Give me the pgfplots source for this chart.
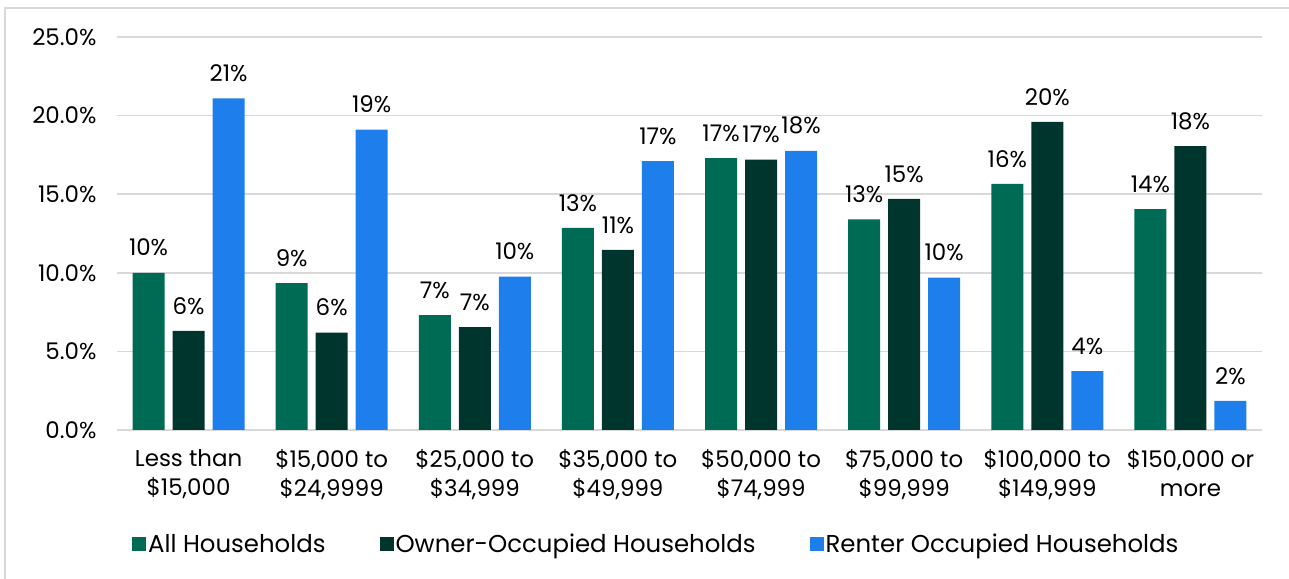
\documentclass[border=0pt]{standalone}
\usepackage{pgfplots}
\pgfplotsset{compat=1.18}
\usepackage{fontspec}
\setmainfont{Poppins}
\definecolor{cAll}{RGB}{0,107,84}
\definecolor{cOwn}{RGB}{0,53,46}
\definecolor{cRent}{RGB}{30,127,236}
\definecolor{gridc}{RGB}{217,217,217}
\begin{document}
\begin{tikzpicture}[x=1bp,y=1bp]
\useasboundingbox (0,0) rectangle (1289,579);
\draw[gridc, line width=1.5bp] (5,-5) -- (5,571) -- (1295,571);
\begin{axis}[
  at={(117bp,149bp)}, anchor=south west,
  scale only axis, width=1145bp, height=393bp,
  ymin=0, ymax=25, xmin=-0.5, xmax=7.5,
  ybar=8bp, bar width=32bp,
  axis line style={draw=none},
  ymajorgrids, grid style={gridc, line width=1.5bp},
  major tick length=0pt,
  ytick={0,5,10,15,20,25},
  yticklabel={\pgfmathprintnumber[fixed,fixed zerofill,precision=1]{\tick}\%},
  /pgf/number format/assume math mode=true,
  y tick label style={font=\fontsize{23}{27}\selectfont, xshift=-17bp},
  xtick={0,...,7},
  xticklabels={{Less than\\\$15,000},{\$15,000 to\\\$24,9999},{\$25,000 to\\\$34,999},{\$35,000 to\\\$49,999},{\$50,000 to\\\$74,999},{\$75,000 to\\\$99,999},{\$100,000 to\\\$149,999},{\$150,000 or\\more}},
  x tick label style={font=\fontsize{23}{29}\selectfont, align=center, yshift=-16bp},
  nodes near coords={\pgfmathprintnumber[fixed,precision=0]{\pgfplotspointmeta}\%},
  every node near coord/.append style={font=\fontsize{23}{27}\selectfont, black, yshift=13bp},
  legend columns=3,
  legend style={at={(0.471,-0.29)}, anchor=center, draw=none, font=\fontsize{24.5}{28}\selectfont,
    /tikz/every even column/.append style={column sep=52bp}},
  legend image code/.code={\path[#1,draw=none] (0bp,-7bp) rectangle (14bp,7bp);},
]
\addplot[fill=cAll, draw=none] coordinates {(0,10.0) (1,9.35) (2,7.3) (3,12.85) (4,17.3) (5,13.4) (6,15.65) (7,14.05)};
\addplot[fill=cOwn, draw=none] coordinates {(0,6.3) (1,6.2) (2,6.55) (3,11.45) (4,17.2) (5,14.7) (6,19.6) (7,18.05)};
\addplot[fill=cRent, draw=none] coordinates {(0,21.1) (1,19.1) (2,9.75) (3,17.1) (4,17.75) (5,9.7) (6,3.75) (7,1.85)};
\legend{All Households, Owner-Occupied Households, Renter Occupied Households}
\end{axis}
\end{tikzpicture}
\end{document}
